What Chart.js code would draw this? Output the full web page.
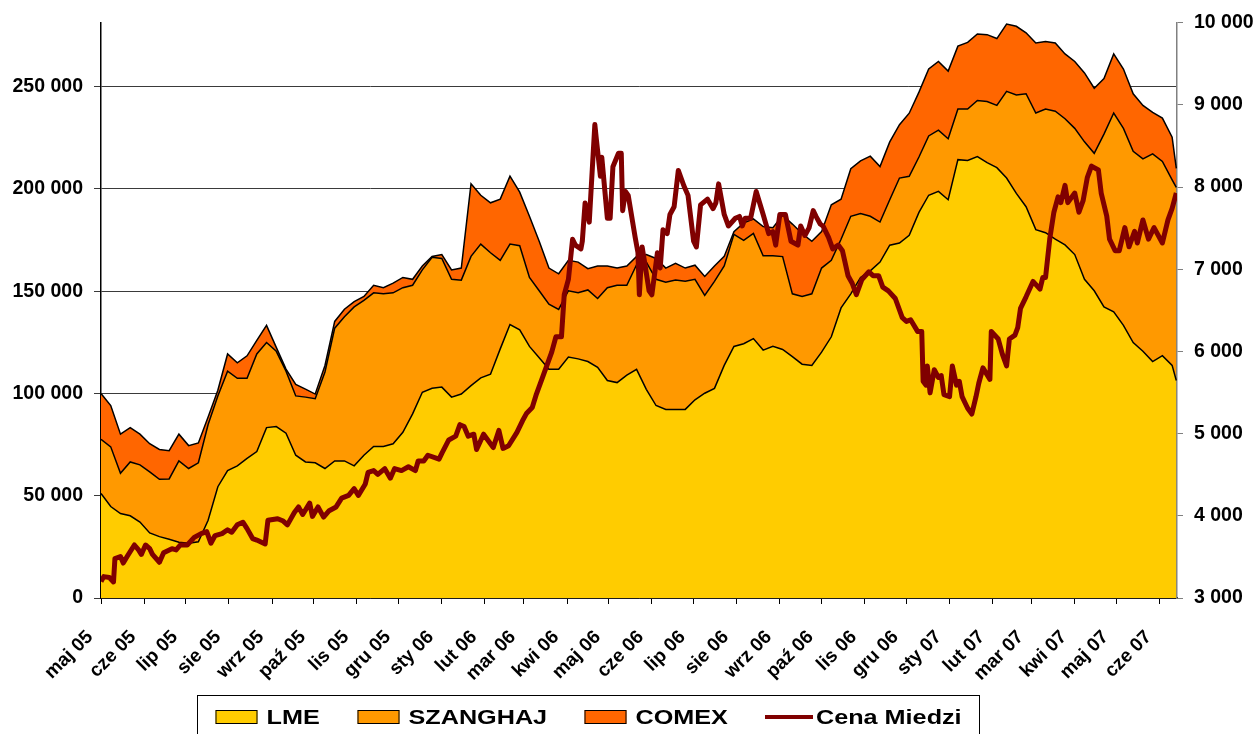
<!DOCTYPE html>
<html>
<head>
<meta charset="utf-8">
<title>Zapasy miedzi</title>
<script src="https://cdn.jsdelivr.net/npm/chart.js@4.4.1/dist/chart.umd.min.js"></script>
<style>
  html, body { margin: 0; padding: 0; background: #fff; }
  #wrap { width: 1256px; height: 734px; }
</style>
</head>
<body>
<div id="wrap"><canvas id="myChart" width="1256" height="734"></canvas></div>
<script>
// x axis: days since 1 May 2005, ticks at the first day of each month
var monthDays = [0, 31, 61, 92, 123, 153, 184, 214, 245, 276, 304, 335, 365,
  396, 426, 457, 488, 518, 549, 579, 610, 641, 669, 700, 730, 761];
var monthLabels = ["maj 05", "cze 05", "lip 05", "sie 05", "wrz 05", "paź 05",
  "lis 05", "gru 05", "sty 06", "lut 06", "mar 06", "kwi 06", "maj 06",
  "cze 06", "lip 06", "sie 06", "wrz 06", "paź 06", "lis 06", "gru 06",
  "sty 07", "lut 07", "mar 07", "kwi 07", "maj 07", "cze 07"];

// axis tick values
var stockTicks = [0, 50000, 100000, 150000, 200000, 250000];
var priceTicks = [3000, 4000, 5000, 6000, 7000, 8000, 9000, 10000];

// stock levels (tonnes), read weekly
var days = [0, 7, 14, 21, 28, 35, 42, 49, 56, 63,
  70, 77, 84, 91, 98, 105, 112, 119, 126, 133,
  140, 147, 154, 161, 168, 175, 182, 189, 196, 203,
  210, 217, 224, 231, 238, 245, 252, 259, 266, 273,
  280, 287, 294, 301, 308, 315, 322, 329, 336, 343,
  350, 357, 364, 371, 378, 385, 392, 399, 406, 413,
  420, 427, 434, 441, 448, 455, 462, 469, 476, 483,
  490, 497, 504, 511, 518, 525, 532, 539, 546, 553,
  560, 567, 574, 581, 588, 595, 602, 609, 616, 623,
  630, 637, 644, 651, 658, 665, 672, 679, 686, 693,
  700, 707, 714, 721, 728, 735, 742, 749, 756, 763,
  770, 773];

var lme = [51100, 44700, 41300, 40200, 37100, 31800, 30000, 28700, 27300, 26800,
  27500, 38000, 54400, 62300, 64600, 68300, 71600, 83300, 83800, 80600,
  69800, 66500, 66100, 63300, 67000, 67000, 64600, 69800, 74100, 74100,
  75400, 81000, 90000, 100600, 102500, 103100, 98200, 99700, 103800, 107600,
  109400, 121800, 133700, 131100, 123000, 117500, 111800, 111800, 117800, 116900,
  115600, 112800, 106300, 105300, 109000, 111800, 102000, 94100, 92200, 92200,
  92200, 96900, 100100, 102500, 113700, 123000, 124300, 126800, 121200, 123000,
  121500, 118000, 114300, 113700, 120200, 127700, 141800, 148700, 156700, 159900,
  164200, 172500, 173500, 177300, 188500, 196900, 198800, 194700, 214300, 213900,
  215800, 212800, 210400, 205300, 197800, 191300, 180100, 178600, 175400, 172600,
  167900, 155800, 150200, 142300, 139900, 133300, 124900, 120600, 115600, 118500,
  113700, 106300];

var szanghaj = [26500, 29200, 19700, 26300, 28000, 29900, 28000, 29500, 39700, 36500,
  38600, 46800, 44400, 48600, 42800, 39100, 47700, 41600, 36800, 30300,
  29000, 31700, 31300, 47200, 64900, 70500, 77700, 75700, 75100, 74600,
  73800, 70700, 62900, 59800, 64100, 62900, 57600, 55700, 63200, 65400,
  59400, 43300, 39300, 41100, 33700, 32700, 31800, 29300, 32400, 32300,
  35000, 33600, 45400, 47600, 43900, 51100, 62200, 61700, 62200, 63200,
  62600, 58900, 47800, 52300, 48600, 54800, 50500, 51400, 46100, 44300,
  45400, 30700, 33100, 35000, 41100, 37400, 33600, 37900, 31200, 26700,
  19600, 22200, 31800, 28900, 27100, 29000, 29900, 29800, 24700, 25100,
  27400, 29900, 30400, 42400, 48100, 55200, 57000, 60400, 62600, 61700,
  61700, 67200, 67200, 84500, 97200, 96300, 93500, 94100, 101500, 94900,
  90700, 94400];

var comex = [22400, 20200, 19100, 16800, 15000, 13700, 14600, 13800, 13100, 11200,
  9700, 3700, 2800, 8400, 7600, 11000, 6600, 8400, 1900, 1000,
  5600, 3900, 2300, 3200, 3300, 3700, 2600, 1900, 3700, 3000,
  4700, 5000, 2900, 1900, 400, 1900, 4600, 5900, 35500, 23900,
  24400, 29900, 33200, 26200, 29900, 24200, 17700, 17400, 14900, 15000,
  10400, 15900, 10600, 8400, 9400, 4100, 3700, 10200, 6900, 8200,
  6500, 6900, 9300, 7500, 4700, 1300, 8600, 7100, 14300, 13700,
  20200, 34100, 30800, 25700, 17800, 27100, 19600, 23300, 25800, 29400,
  27100, 28300, 26100, 30800, 31700, 32700, 33600, 33100, 30800, 32600,
  32500, 32700, 32700, 32900, 33600, 29800, 34200, 33000, 33300, 31700,
  32700, 33700, 31800, 27100, 28900, 29000, 28100, 26100, 20300, 21200,
  20900, 9300];

// copper price (USD/t), right axis
var cenaDays = [0, 2, 6, 9, 10, 14, 16, 19, 24, 27, 29, 32, 35, 37, 42, 45, 51, 54, 57, 62,
  67, 72, 76, 79, 82, 87, 91, 94, 98, 102, 105, 109, 112, 118, 120, 127, 131, 134, 139, 142,
  145, 150, 152, 156, 160, 164, 169, 173, 178, 182, 185, 190, 192, 196, 199, 204, 208, 211, 216, 221,
  226, 228, 232, 235, 243, 245, 250, 255, 258, 261, 264, 268, 270, 275, 280, 282, 286, 289, 293, 299,
  303, 306, 310, 313, 318, 324, 327, 331, 333, 336, 339, 341, 345, 346, 348, 351, 355, 356, 359, 360,
  364, 366, 368, 372, 374, 375, 377, 379, 384, 386, 387, 389, 391, 394, 396, 400, 402, 404, 407, 409,
  412, 415, 419, 422, 426, 428, 431, 436, 440, 442, 444, 448, 451, 456, 459, 461, 463, 467, 471, 476,
  480, 483, 485, 488, 492, 496, 501, 503, 506, 509, 512, 514, 517, 519, 523, 526, 530, 533, 537, 540,
  543, 547, 552, 555, 559, 562, 566, 571, 576, 579, 582, 587, 590, 591, 593, 594, 596, 599, 602, 604,
  606, 610, 612, 615, 617, 619, 623, 626, 629, 631, 634, 639, 640, 645, 648, 651, 653, 657, 659, 661,
  665, 670, 675, 677, 679, 682, 685, 688, 690, 693, 695, 700, 703, 706, 709, 712, 717, 719, 723, 725,
  729, 732, 736, 739, 743, 745, 749, 753, 757, 763, 767, 770, 773];
var cenaValues = [3200, 3260, 3250, 3195, 3480, 3505, 3425, 3510, 3645, 3585, 3530, 3645, 3600, 3530, 3435, 3550, 3600, 3585, 3645, 3645,
  3737, 3784, 3807, 3667, 3760, 3784, 3830, 3800, 3890, 3922, 3844, 3723, 3705, 3658, 3946, 3965, 3936, 3890, 4040, 4108,
  4016, 4155, 3993, 4108, 3984, 4062, 4108, 4216, 4248, 4330, 4248, 4388, 4528, 4550, 4504, 4574, 4458, 4574, 4550, 4597,
  4550, 4667, 4667, 4737, 4690, 4760, 4923, 4969, 5109, 5086, 4969, 4993, 4806, 4993, 4876, 4830, 5039, 4820, 4853, 5016,
  5156, 5249, 5318, 5481, 5713, 5992, 6178, 6178, 6690, 6876, 7364, 7294, 7248, 7341, 7806, 7573, 8760, 8597, 8132, 8364,
  7620, 7620, 8248, 8411, 8411, 7713, 7946, 7899, 7388, 7202, 6690, 7272, 7062, 6737, 6690, 7202, 7016, 7481, 7434, 7667,
  7760, 8202, 8016, 7899, 7341, 7272, 7783, 7853, 7737, 7807, 8039, 7667, 7527, 7620, 7643, 7527, 7620, 7620, 7946, 7667,
  7434, 7457, 7294, 7667, 7667, 7341, 7294, 7527, 7411, 7504, 7713, 7643, 7550, 7527, 7388, 7248, 7294, 7225, 6922, 6830,
  6690, 6876, 6969, 6922, 6922, 6783, 6737, 6644, 6411, 6365, 6385, 6244, 6244, 5637, 5590, 5824, 5496, 5777, 5683, 5707,
  5473, 5450, 5824, 5590, 5637, 5450, 5309, 5239, 5450, 5613, 5800, 5660, 6244, 6151, 5964, 5824, 6151, 6198, 6291, 6525,
  6665, 6852, 6759, 6899, 6899, 7366, 7694, 7881, 7811, 8021, 7811, 7927, 7694, 7834, 8114, 8255, 8208, 7927, 7647, 7366,
  7226, 7226, 7507, 7273, 7460, 7320, 7600, 7366, 7507, 7320, 7600, 7741, 7928];

function toPoints(xs, ys) {
  var pts = [];
  for (var i = 0; i < xs.length; i++) pts.push({ x: xs[i], y: ys[i] });
  return pts;
}

function toTicks(list) {
  return list.map(function (v) { return { value: v }; });
}

function fmt(v) {
  return String(v).replace(/\B(?=(\d{3})+(?!\d))/g, " ");
}

const FONT = '"Liberation Sans", Arial, sans-serif';

// legend drawn in a bordered box under the axis, like the Excel one
var boxLegend = {
  id: "boxLegend",
  afterDraw: function (chart) {
    var ctx = chart.ctx;
    var slots = [215.5, 357.5, 584.5, 765];
    var cy = 717;
    ctx.save();
    ctx.strokeStyle = "#000";
    ctx.lineWidth = 1;
    ctx.strokeRect(197.5, 695.5, 782, 60);
    ctx.font = "bold 21px " + FONT;
    ctx.textBaseline = "middle";
    chart.data.datasets.forEach(function (ds, i) {
      var x = slots[i];
      if (ds.fill === false) {
        ctx.strokeStyle = ds.borderColor;
        ctx.lineWidth = 4;
        ctx.beginPath();
        ctx.moveTo(x, cy);
        ctx.lineTo(x + 48, cy);
        ctx.stroke();
      } else {
        ctx.fillStyle = ds.backgroundColor;
        ctx.fillRect(x, cy - 7, 42, 14);
        ctx.strokeStyle = "#000";
        ctx.lineWidth = 1;
        ctx.strokeRect(x + 0.5, cy - 6.5, 41, 13);
      }
      ctx.fillStyle = "#000";
      ctx.save();
      ctx.translate(x + 51, cy + 1);
      ctx.scale(1.2, 1);
      ctx.fillText(ds.label, 0, 0);
      ctx.restore();
    });
    ctx.restore();
  }
};

var areaBase = { borderColor: "#000", borderWidth: 1.5, pointRadius: 0, tension: 0, yAxisID: "y", order: 1 };

var ctx = document.getElementById("myChart").getContext("2d");
var myChart = new Chart(ctx, {
  type: "line",
  data: {
    datasets: [
      Object.assign({ label: "LME", data: toPoints(days, lme), backgroundColor: "#FFCC00", fill: "origin" }, areaBase),
      Object.assign({ label: "SZANGHAJ", data: toPoints(days, szanghaj), backgroundColor: "#FF9900", fill: "-1" }, areaBase),
      Object.assign({ label: "COMEX", data: toPoints(days, comex), backgroundColor: "#FF6600", fill: "-1" }, areaBase),
      {
        label: "Cena Miedzi", data: toPoints(cenaDays, cenaValues),
        borderColor: "#800000", backgroundColor: "#800000", borderWidth: 5,
        borderJoinStyle: "round", fill: false, pointRadius: 0, tension: 0,
        yAxisID: "y1", order: 0
      }
    ]
  },
  options: {
    responsive: false,
    animation: false,
    layout: { padding: { top: 22, left: 0, right: 0, bottom: 0 } },
    plugins: { legend: { display: false }, tooltip: { enabled: false } },
    scales: {
      x: {
        type: "linear", min: 0, max: 773.5,
        afterBuildTicks: function (s) { s.ticks = toTicks(monthDays); },
        afterFit: function (s) { s.height = 136; },
        ticks: {
          autoSkip: false, minRotation: 45, maxRotation: 45, padding: 22, labelOffset: -11,
          color: "#000", font: { family: FONT, size: 19, weight: "bold" },
          callback: function (v, i) { return monthLabels[i]; }
        },
        grid: { drawOnChartArea: false, color: "#000", tickLength: 6 },
        border: { color: "#000", width: 1.5 }
      },
      y: {
        position: "left", stacked: true, min: 0, max: 281250,
        afterBuildTicks: function (s) { s.ticks = toTicks(stockTicks); },
        afterFit: function (s) { s.width = 101; },
        ticks: {
          padding: 11, color: "#000",
          font: { family: FONT, size: 19.5, weight: "bold" }, callback: fmt
        },
        grid: { color: "#3a3a3a", lineWidth: 1, tickLength: 7 },
        border: { color: "#000", width: 1.5 }
      },
      y1: {
        position: "right", min: 3000, max: 10000,
        afterBuildTicks: function (s) { s.ticks = toTicks(priceTicks); },
        afterFit: function (s) { s.width = 79; },
        ticks: {
          padding: 11, color: "#000",
          font: { family: FONT, size: 19.5, weight: "bold" }, callback: fmt
        },
        grid: { drawOnChartArea: false, color: "#808080", tickLength: 6 },
        border: { color: "#808080", width: 1.5 }
      }
    }
  },
  plugins: [boxLegend]
});
</script>
</body>
</html>
